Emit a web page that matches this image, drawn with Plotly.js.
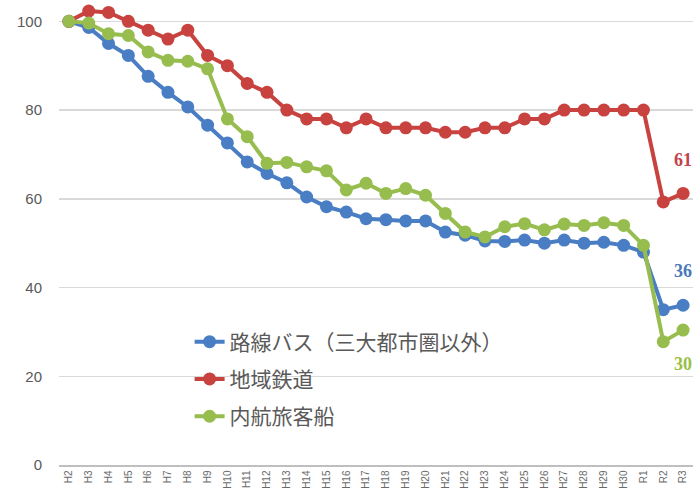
<!DOCTYPE html>
<html><head><meta charset="utf-8">
<script src="https://cdn.plot.ly/plotly-3.0.1.min.js"></script>
<style>html,body{margin:0;padding:0;background:#fff}#c{width:699px;height:492px}</style>
</head><body><div id="c"></div>
<script>
const years = ["H2","H3","H4","H5","H6","H7","H8","H9","H10","H11","H12","H13","H14","H15","H16","H17","H18","H19","H20","H21","H22","H23","H24","H25","H26","H27","H28","H29","H30","R1","R2","R3"];
const bus = [100,98.6,95,92.3,87.6,84,80.7,76.6,72.6,68.3,65.7,63.6,60.4,58.2,57,55.5,55.3,55,55,52.5,51.8,50.5,50.4,50.7,50,50.7,50,50.2,49.5,48,35,36];
const rail = [100,102.3,102,100,98,96,98,92.3,90,86,84,80,78,78,76,78,76,76,76,75,75,76,76,78,78,80,80,80,80,80,59.3,61.2];
const ship = [100,99.6,97.2,96.8,93.1,91.2,91,89.3,78,74,68,68.2,67.2,66.3,62,63.5,61.2,62.3,60.8,56.7,52.5,51.4,53.7,54.4,53,54.3,54,54.6,54,49.5,27.8,30.4];
const names = ["路線バス（三大都市圏以外）","地域鉄道","内航旅客船"];
const colors = ["#4a7ec4","#c8423f","#97bd4f"];
const labelColors = ["#4a78b8","#c0434e","#9bbf45"];
const series = [bus, rail, ship];
const endLabels = ["36","61","30"];
const labelShift = [34, 33, -34];

const traces = series.map((s,i)=>({
  x: years, y: s, type: "scatter", mode: "lines+markers", name: names[i],
  legendgroup: "g"+i,
  line: {color: colors[i], width: 4},
  marker: {color: colors[i], size: 13},
  cliponaxis: false
}));

const annotations = series.map((s,i)=>({
  x: years[years.length-1], y: s[s.length-1], xref: "x", yref: "y",
  text: "<b>"+endLabels[i]+"</b>", showarrow: false, yshift: labelShift[i], xshift: 0,
  font: {family: "Liberation Serif, serif", size: 18, color: labelColors[i]}
}));

const layout = {
  width: 699, height: 492,
  margin: {l: 59, r: 6, t: 8, b: 27},
  paper_bgcolor: "#fff", plot_bgcolor: "#fff",
  showlegend: true,
  legend: {x: 0.206, y: 0.314, xanchor: "left", yanchor: "top", bgcolor: "rgba(0,0,0,0)",
    traceorder: "grouped", tracegroupgap: 7,
    font: {family: "Noto Sans CJK JP, sans-serif", size: 21, color: "#595959"}},
  xaxis: {type: "category", range: [-0.5, 31.5], tickangle: -90, showgrid: false,
    tickfont: {family: "Liberation Sans, sans-serif", size: 10, color: "#6a6a6a"},
    showline: true, linecolor: "#bfbfbf", linewidth: 1.5, ticks: "", zeroline: false, automargin: false},
  yaxis: {range: [0, 103], tickvals: [0,20,40,60,80,100], showgrid: true, gridcolor: "#d9d9d9", gridwidth: 1.5,
    zeroline: false, showline: false, ticks: "", ticklabelstandoff: 16,
    tickfont: {family: "Liberation Sans, sans-serif", size: 15, color: "#595959"}, automargin: false},
  annotations: annotations
};
Plotly.newPlot("c", traces, layout, {displayModeBar: false, staticPlot: true});
</script></body></html>
